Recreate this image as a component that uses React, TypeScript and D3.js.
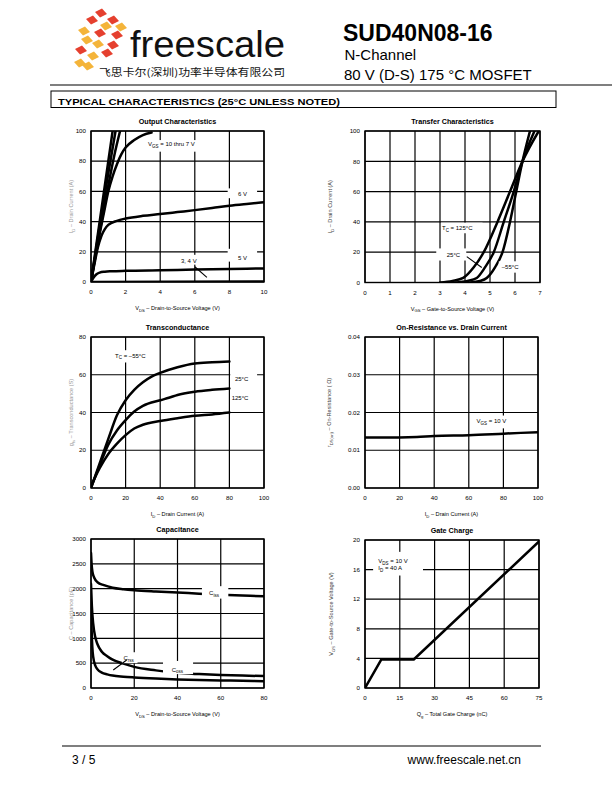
import React from 'react';
import * as d3 from 'd3';

type Pt = [number, number];
type Seg = [string, boolean?];

const FONT = "'Liberation Sans', Arial, Helvetica, sans-serif";

// ---------- Output Characteristics ----------
const outXTicks = [0, 2, 4, 6, 8, 10];
const outYTicks = [0, 20, 40, 60, 80, 100];
const outVgs10: Pt[] = [[0, 0], [0.5, 40], [1, 80], [1.25, 100]];
const outVgs9: Pt[] = [[0, 0], [0.5, 37], [1, 72], [1.42, 100]];
const outVgs8: Pt[] = [[0, 0], [0.5, 33], [1, 64], [1.35, 84], [1.68, 100]];
const outVgs7: Pt[] = [[0, 0], [0.25, 17], [0.5, 32], [0.75, 46], [1, 60], [1.25, 70], [1.5, 78], [1.75, 84.5], [2, 89], [2.5, 94], [3, 97.3], [3.5, 99]];
const outVgs6: Pt[] = [[0, 0], [0.2, 12], [0.4, 23], [0.6, 30.5], [0.8, 35], [1, 37.8], [1.5, 40.5], [2, 42], [3, 43.8], [4, 45], [5, 46.3], [6, 47.6], [7, 49], [8, 50.5], [9, 51.7], [10, 52.8]];
const outVgs5: Pt[] = [[0, 0], [0.15, 3], [0.3, 5], [0.5, 6.2], [0.8, 6.8], [1.2, 7.1], [2, 7.4], [4, 7.8], [6, 8.2], [8, 8.6], [10, 9.0]];
const outVgs34: Pt[] = [[0, 0], [10, 0.3]];

// ---------- Transfer Characteristics ----------
const trXTicks = [0, 1, 2, 3, 4, 5, 6, 7];
const trYTicks = [0, 20, 40, 60, 80, 100];
const trT125: Pt[] = [[3.0, 0], [3.5, 1], [3.93, 3], [4.35, 10], [4.75, 20], [5.3, 40], [5.8, 60], [6.3, 80], [6.95, 100]];
const trT25: Pt[] = [[3.6, 0], [4.1, 1], [4.47, 3], [4.8, 10], [5.15, 20], [5.55, 40], [5.95, 60], [6.3, 80], [6.78, 100]];
const trTm55: Pt[] = [[4.2, 0], [4.6, 1], [4.87, 3], [5.2, 10], [5.5, 20], [5.8, 40], [6.05, 60], [6.3, 80], [6.6, 100]];

// ---------- Transconductance ----------
const gfsXTicks = [0, 20, 40, 60, 80, 100];
const gfsYTicks = [0, 20, 40, 60, 80];
const gfsTop: Pt[] = [[0, 0], [5, 13], [10, 26], [15, 38.5], [20, 46.5], [25, 52], [30, 56], [35, 59], [40, 61], [50, 64], [60, 66], [70, 66.6], [80, 67]];
const gfsMid: Pt[] = [[0, 0], [5, 12], [10, 23], [15, 30.5], [20, 36], [25, 40.5], [30, 43.5], [40, 46.5], [45, 47.8], [50, 49.3], [60, 51], [70, 52], [80, 52.7]];
const gfsBot: Pt[] = [[0, 1], [5, 10.5], [10, 18], [15, 23.5], [20, 28], [25, 31.5], [30, 33.5], [40, 35.5], [50, 37], [60, 38.3], [70, 39], [80, 40]];

// ---------- On-Resistance ----------
const rdsXTicks = [0, 20, 40, 60, 80, 100];
const rdsYTicks = [0, 0.01, 0.02, 0.03, 0.04];
const rdsOn: Pt[] = [[0, 0.0134], [20, 0.0134], [30, 0.0135], [40, 0.0138], [60, 0.014], [80, 0.0144], [100, 0.0148]];

// ---------- Capacitance ----------
const capXTicks = [0, 20, 40, 60, 80];
const capYTicks = [0, 500, 1000, 1500, 2000, 2500, 3000];
const capCiss: Pt[] = [[0, 2720], [0.3, 2480], [0.7, 2330], [1.5, 2220], [3, 2130], [6, 2070], [10, 2020], [15, 1990], [20, 1970], [30, 1945], [40, 1925], [50, 1900], [60, 1880], [70, 1862], [80, 1845]];
const capCoss: Pt[] = [[0, 2100], [0.4, 1650], [1, 1300], [2, 1020], [3, 880], [5, 730], [7.5, 640], [10, 570], [15, 490], [20, 425], [30, 355], [40, 305], [50, 280], [60, 262], [70, 250], [80, 240]];
const capCrss: Pt[] = [[0, 1700], [0.3, 1150], [0.6, 830], [1, 630], [2, 450], [3, 375], [5, 310], [7.5, 275], [10, 250], [15, 228], [20, 213], [30, 190], [40, 172], [50, 160], [60, 152], [70, 145], [80, 138]];

// ---------- Gate Charge ----------
const qgXTicks = [0, 15, 30, 45, 60, 75];
const qgYTicks = [0, 4, 8, 12, 16, 20];
const qgVgs: Pt[] = [[0, 0], [7, 3.85], [21, 3.85], [75, 19.8]];

interface Note { segs: Seg[]; x: number; y: number; box?: [number, number, number, number] }
interface Series { data: Pt[]; linear?: boolean }
interface PanelProps {
  id: string; l: number; r: number; t: number; b: number;
  xd: [number, number]; yd: [number, number]; xt: number[]; yt: number[];
  yfmt?: (v: number) => string;
  title: string; xLabel: Seg[]; yLabel: Seg[]; yLabelX: number; yLabelColor: string;
  series: Series[]; notes: Note[]; leaders?: [Pt, Pt][];
}

function rich(segs: Seg[], fs: number) {
  let shifted = false;
  return segs.map(([t, sub], i) => {
    if (sub && !shifted) { shifted = true; return <tspan key={i} fontSize={fs * 0.75} dy={fs * 0.3}>{t}</tspan>; }
    if (!sub && shifted) { shifted = false; return <tspan key={i} dy={-fs * 0.3}>{t}</tspan>; }
    return <tspan key={i} fontSize={sub ? fs * 0.75 : undefined}>{t}</tspan>;
  });
}

function Panel(p: PanelProps) {
  const x = d3.scaleLinear().domain(p.xd).range([p.l, p.r]);
  const y = d3.scaleLinear().domain(p.yd).range([p.b, p.t]);
  const cid = `clip-${p.id}`;
  const fmt = p.yfmt ?? ((v: number) => String(v));
  const cx = (p.l + p.r) / 2;
  const cy = (p.t + p.b) / 2;
  return (
    <g fontFamily={FONT}>
      <defs>
        <clipPath id={cid}><rect x={p.l} y={p.t} width={p.r - p.l} height={p.b - p.t} /></clipPath>
      </defs>
      {p.xt.map(v => <line key={'gx' + v} x1={x(v)} x2={x(v)} y1={p.t} y2={p.b} stroke="#000" strokeWidth={1.2} />)}
      {p.yt.map(v => <line key={'gy' + v} x1={p.l} x2={p.r} y1={y(v)} y2={y(v)} stroke="#000" strokeWidth={1.2} />)}
      <rect x={p.l} y={p.t} width={p.r - p.l} height={p.b - p.t} fill="none" stroke="#000" strokeWidth={1.4} />
      <g clipPath={`url(#${cid})`}>
        {p.series.map((s, i) => {
          const gen = d3.line<Pt>().x(d => x(d[0])).y(d => y(d[1])).curve(s.linear ? d3.curveLinear : d3.curveMonotoneX);
          return <path key={i} d={gen(s.data) ?? ''} fill="none" stroke="#000" strokeWidth={2.5} strokeLinejoin="round" strokeLinecap="round" />;
        })}
      </g>
      {p.notes.map((n, i) => n.box ? (
        <rect key={'nb' + i} x={x(n.box[0])} y={y(n.box[3])} width={x(n.box[1]) - x(n.box[0])} height={y(n.box[2]) - y(n.box[3])} fill="#fff" />
      ) : null)}
      {p.notes.map((n, i) => (
        <text key={'nt' + i} x={x(n.x)} y={y(n.y)} fontSize={6} fill="#000">{rich(n.segs, 6)}</text>
      ))}
      {(p.leaders ?? []).map((ld, i) => (
        <line key={'ld' + i} x1={x(ld[0][0])} y1={y(ld[0][1])} x2={x(ld[1][0])} y2={y(ld[1][1])} stroke="#000" strokeWidth={1.1} />
      ))}
      {p.yt.map(v => <text key={'ty' + v} x={p.l - 5} y={y(v) + 2.2} fontSize={6.2} textAnchor="end" fill="#000">{fmt(v)}</text>)}
      {p.xt.map(v => <text key={'tx' + v} x={x(v)} y={p.b + 12} fontSize={6.2} textAnchor="middle" fill="#000">{v}</text>)}
      <text x={cx} y={p.t - 7} fontSize={7.2} fontWeight="bold" textAnchor="middle" fill="#000">{p.title}</text>
      <text x={cx} y={p.b + 28} fontSize={5.6} textAnchor="middle" fill="#000">{rich(p.xLabel, 5.6)}</text>
      <text x={p.yLabelX} y={cy} fontSize={5.6} textAnchor="middle" fill={p.yLabelColor}
        transform={`rotate(-90, ${p.yLabelX}, ${cy})`}>{rich(p.yLabel, 5.6)}</text>
    </g>
  );
}

const RED = '#e5402f';
const ORANGE = '#f4b43a';
const logoCells: [number, number, string][] = [
  [101, 13, RED], [92, 20, RED], [113, 20, RED], [106, 26, ORANGE], [121, 27, ORANGE],
  [84, 31, ORANGE], [100, 33, RED], [117, 35, RED], [87, 40, ORANGE], [98, 44, ORANGE],
  [113, 45, RED], [81, 50, RED], [107, 53, RED], [93, 56, ORANGE], [80, 63, ORANGE], [88, 66, ORANGE],
];

function Logo() {
  return (
    <g>
      {logoCells.map(([cx, cy, c], i) => (
        <polygon key={i} points={`${cx - 6},${cy - 1} ${cx + 1},${cy - 4.5} ${cx + 6},${cy + 1} ${cx - 1},${cy + 4.5}`} fill={c} />
      ))}
    </g>
  );
}

export default function App() {
  return (
    <svg width={612} height={792} viewBox="0 0 612 792" style={{ position: 'absolute', left: 0, top: 0, display: 'block', background: '#fff' }}>
      <rect x={0} y={0} width={612} height={792} fill="#fff" />
      <Logo />
      <text x={130} y={57} fontFamily={FONT} fontSize={36} fill="#111" textLength={155} lengthAdjust="spacingAndGlyphs">freescale</text>
      <text x={99} y={76} fontFamily="'Noto Sans CJK SC', sans-serif" fontSize={10} fill="#111" textLength={186} lengthAdjust="spacingAndGlyphs">飞思卡尔(深圳)功率半导体有限公司</text>
      <text x={343} y={40.5} fontFamily={FONT} fontSize={23} fontWeight="bold" fill="#000">SUD40N08-16</text>
      <text x={344.5} y={60} fontFamily={FONT} fontSize={15} fill="#000">N-Channel</text>
      <text x={344} y={80} fontFamily={FONT} fontSize={15} fill="#000">80 V (D-S) 175 °C MOSFET</text>
      <line x1={50} x2={612} y1={85} y2={85} stroke="#000" strokeWidth={1.2} />

      <rect x={51} y={91} width={505} height={16.5} fill="none" stroke="#000" strokeWidth={1} />
      <text x={58} y={104.5} fontFamily={FONT} fontSize={9} fontWeight={900} fill="#000" textLength={282} lengthAdjust="spacingAndGlyphs">TYPICAL CHARACTERISTICS (25°C UNLESS NOTED)</text>

      <Panel id="out" l={91} r={264} t={131} b={282} xd={[0, 10]} yd={[0, 100]} xt={outXTicks} yt={outYTicks}
        title="Output Characteristics" xLabel={[['V'], ['DS', true], ['  –  Drain-to-Source Voltage (V)']]}
        yLabel={[['I'], ['D', true], ['  –  Drain Current (A)']]} yLabelX={73} yLabelColor="#999"
        series={[{ data: outVgs10 }, { data: outVgs9 }, { data: outVgs8 }, { data: outVgs7 }, { data: outVgs6 }, { data: outVgs5 }, { data: outVgs34 }]}
        notes={[
          { segs: [['V'], ['GS', true], [' = 10 thru 7 V']], x: 3.3, y: 90, box: [3.1, 6.6, 86.3, 94] },
          { segs: [['6 V']], x: 8.5, y: 57, box: [7.9, 9.6, 55.5, 62] },
          { segs: [['5 V']], x: 8.5, y: 14.9, box: [7.9, 9.6, 13.5, 22] },
          { segs: [['3, 4 V']], x: 5.2, y: 12.6, box: [5.1, 6.4, 11.5, 18] },
        ]}
        leaders={[[[6.0, 10.1], [6.7, 3.1]]]} />

      <Panel id="tr" l={365} r={540} t={131} b={282.5} xd={[0, 7]} yd={[0, 100]} xt={trXTicks} yt={trYTicks}
        title="Transfer Characteristics" xLabel={[['V'], ['GS', true], ['  –  Gate-to-Source Voltage (V)']]}
        yLabel={[['I'], ['D', true], ['  –  Drain Current (A)']]} yLabelX={332} yLabelColor="#444"
        series={[{ data: trT125 }, { data: trT25 }, { data: trTm55 }]}
        notes={[
          { segs: [['T'], ['C', true], [' = 125°C']], x: 3.08, y: 34.6, box: [3.04, 4.7, 32.5, 39.5] },
          { segs: [['25°C']], x: 3.27, y: 17.1, box: [2.85, 4.05, 14.5, 22.5] },
          { segs: [['–55°C']], x: 5.47, y: 8.9, box: [5.35, 6.45, 6.5, 14] },
        ]}
        leaders={[[[4.07, 17.1], [4.67, 9.9]]]} />

      <Panel id="gfs" l={91} r={264} t={337} b={488} xd={[0, 100]} yd={[0, 80]} xt={gfsXTicks} yt={gfsYTicks}
        title="Transconductance" xLabel={[['I'], ['D', true], ['  –  Drain Current (A)']]}
        yLabel={[['g'], ['fs', true], ['  –  Transconductance (S)']]} yLabelX={73} yLabelColor="#999"
        series={[{ data: gfsTop }, { data: gfsMid }, { data: gfsBot }]}
        notes={[
          { segs: [['T'], ['C', true], [' = –55°C']], x: 13.9, y: 69.1, box: [13, 35, 66.5, 73] },
          { segs: [['25°C']], x: 83.2, y: 56.7, box: [80.5, 96, 54, 62] },
          { segs: [['125°C']], x: 81.3, y: 46.6, box: [80.5, 96, 44, 50.5] },
        ]} />

      <Panel id="rds" l={365} r={538} t={337} b={488} xd={[0, 100]} yd={[0, 0.04]} xt={rdsXTicks} yt={rdsYTicks}
        yfmt={d3.format('.2f')}
        title="On-Resistance vs. Drain Current" xLabel={[['I'], ['D', true], ['  –  Drain Current (A)']]}
        yLabel={[['r'], ['DS(on)', true], ['  –  On-Resistance ( Ω)']]} yLabelX={331} yLabelColor="#444"
        series={[{ data: rdsOn }]}
        notes={[
          { segs: [['V'], ['GS', true], [' = 10 V']], x: 64.5, y: 0.01709, box: [63, 86, 0.0158, 0.0192] },
        ]} />

      <Panel id="cap" l={91} r={264} t={539} b={688} xd={[0, 80]} yd={[0, 3000]} xt={capXTicks} yt={capYTicks}
        title="Capacitance" xLabel={[['V'], ['DS', true], ['  –  Drain-to-Source Voltage (V)']]}
        yLabel={[['C  –  Capacitance (pF)']]} yLabelX={73} yLabelColor="#999"
        series={[{ data: capCiss }, { data: capCoss }, { data: capCrss }]}
        notes={[
          { segs: [['C'], ['iss', true]], x: 54.6, y: 1872, box: [51.3, 63.5, 1800, 2050] },
          { segs: [['C'], ['rss', true]], x: 15, y: 554, box: [14.3, 21.5, 500, 720] },
          { segs: [['C'], ['oss', true]], x: 37.3, y: 332, box: [33.3, 47.2, 280, 545] },
        ]}
        leaders={[[[10.3, 363], [16.5, 564]]]} />

      <Panel id="qg" l={365} r={539} t={540} b={688} xd={[0, 75]} yd={[0, 20]} xt={qgXTicks} yt={qgYTicks}
        title="Gate Charge" xLabel={[['Q'], ['g', true], ['  –  Total Gate Charge (nC)']]}
        yLabel={[['V'], ['GS', true], ['  –  Gate-to-Source Voltage (V)']]} yLabelX={333} yLabelColor="#444"
        series={[{ data: qgVgs, linear: true }]}
        notes={[
          { segs: [['V'], ['DS', true], [' = 10 V']], x: 5.75, y: 16.9, box: [3.5, 25, 15.2, 18.4] },
          { segs: [['I'], ['D', true], [' = 40 A']], x: 5.75, y: 15.9 },
        ]} />

      <line x1={62} x2={541} y1={746} y2={746} stroke="#000" strokeWidth={1.2} />
      <text x={72} y={764} fontFamily={FONT} fontSize={12} fill="#000">3 / 5</text>
      <text x={521} y={764} fontFamily={FONT} fontSize={12} fill="#000" textAnchor="end">www.freescale.net.cn</text>
    </svg>
  );
}
